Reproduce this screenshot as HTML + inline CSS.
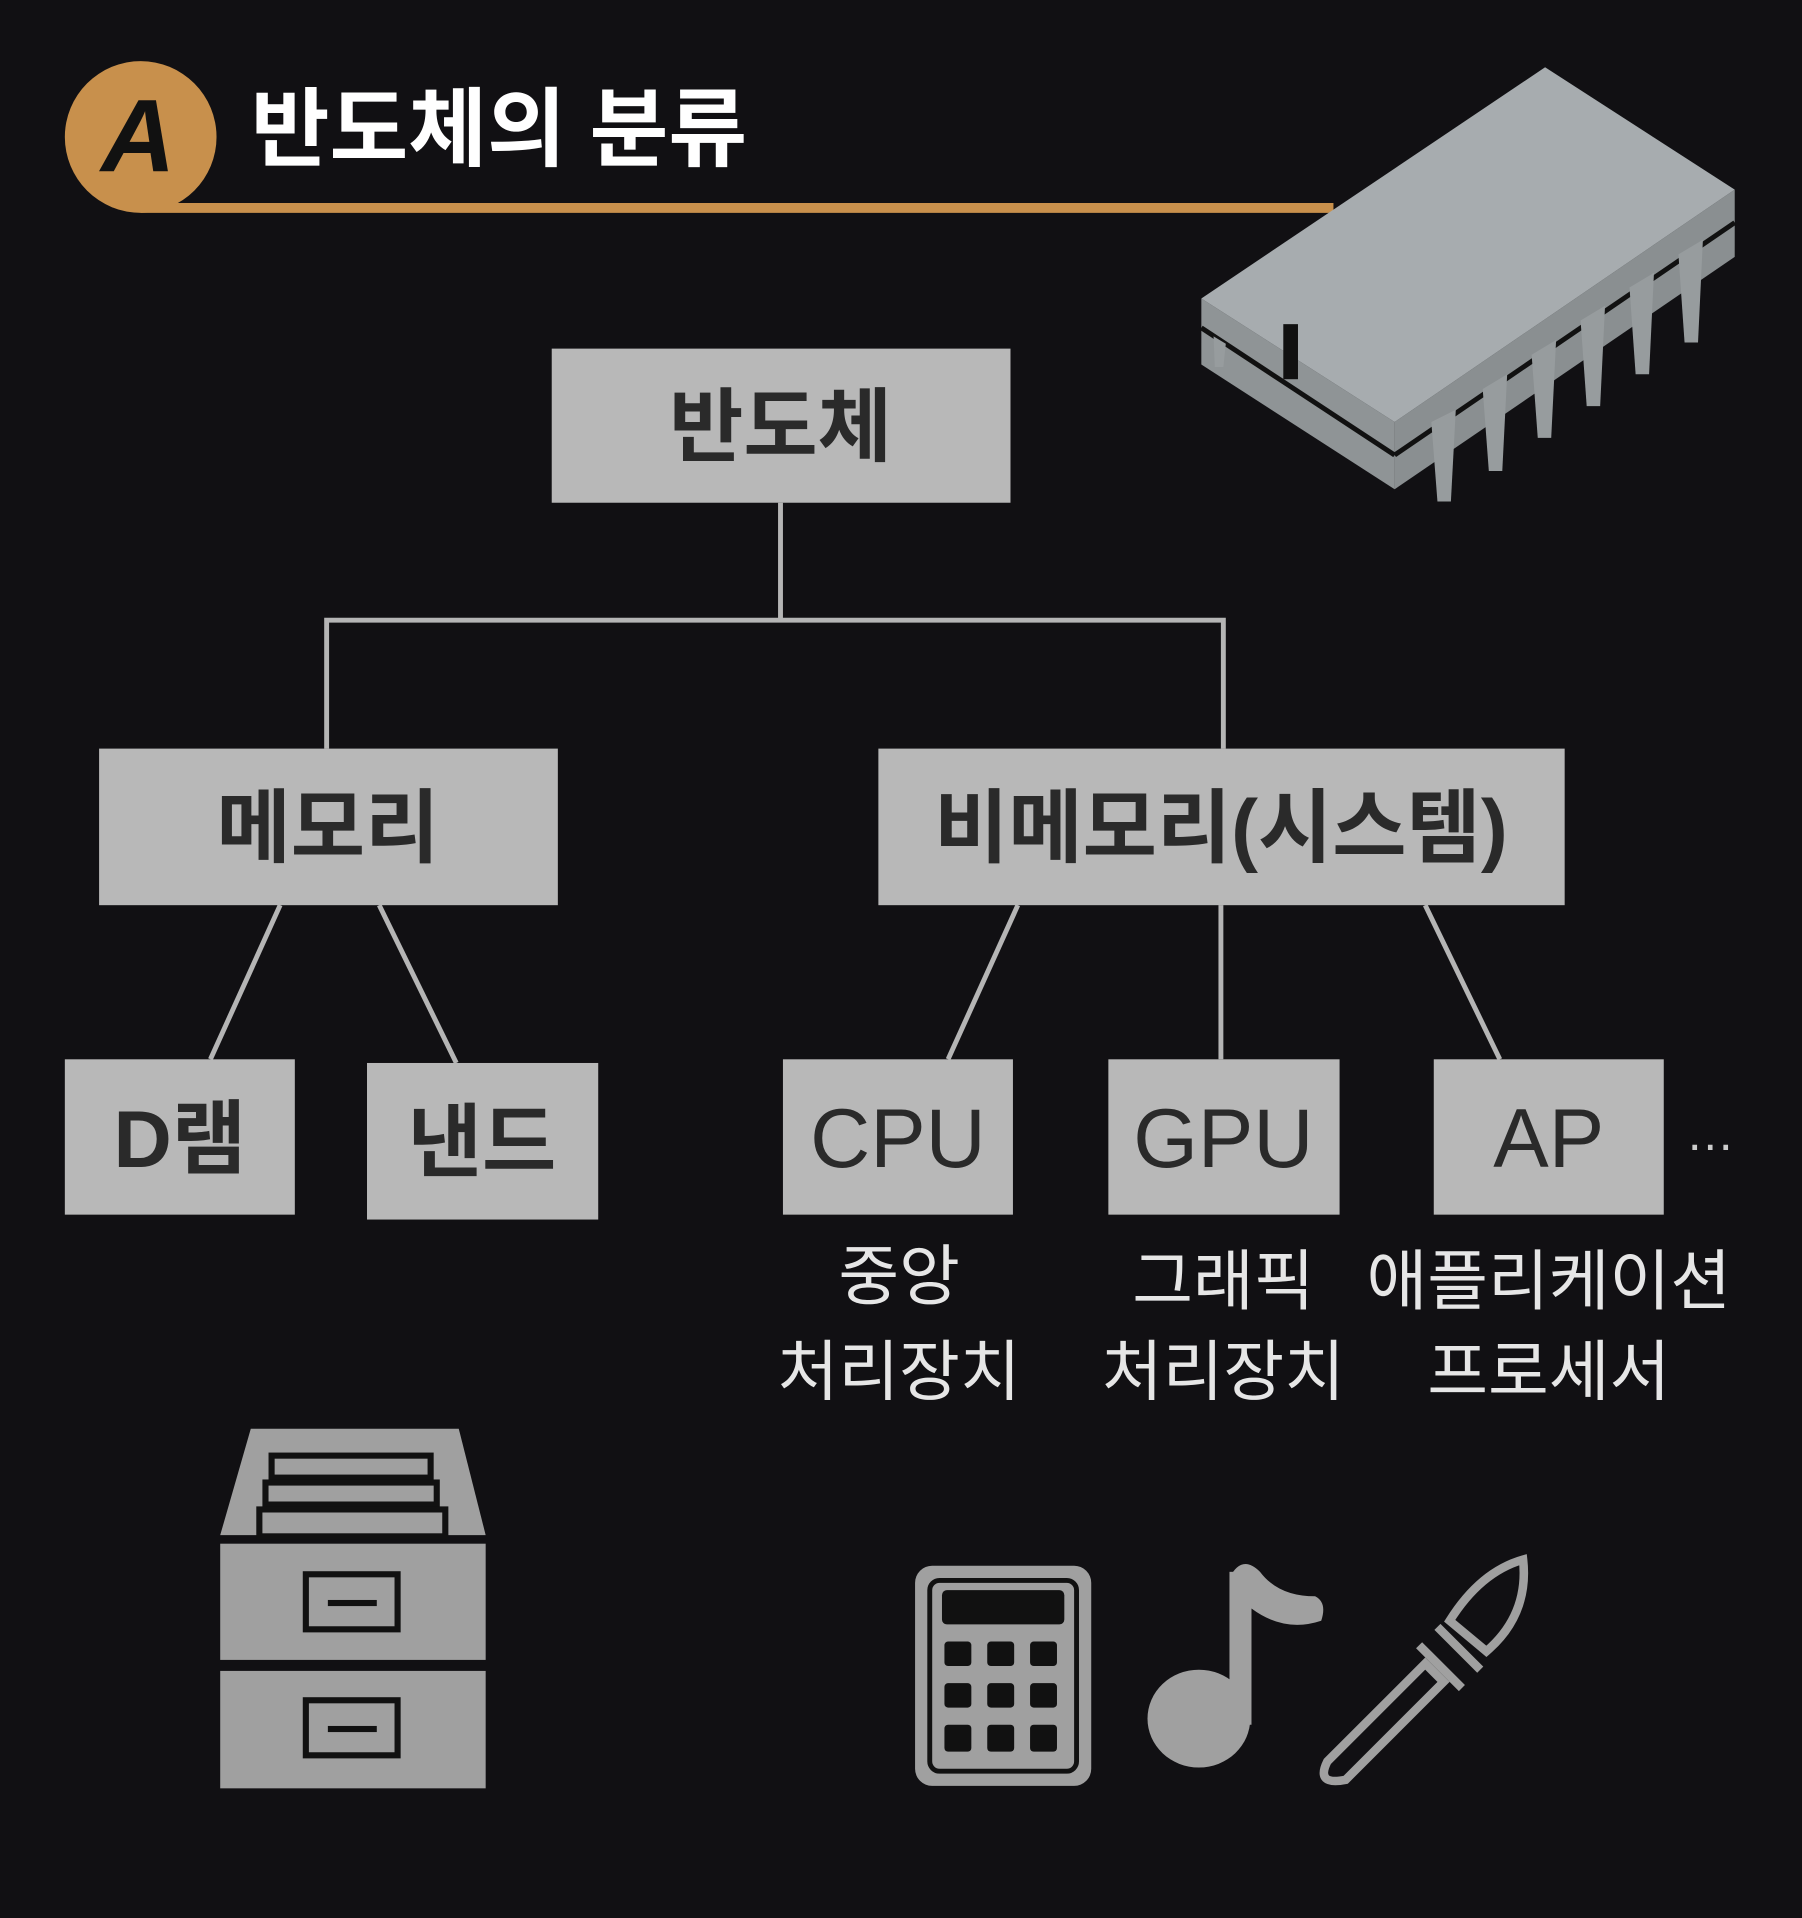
<!DOCTYPE html>
<html><head><meta charset="utf-8">
<style>
html,body{margin:0;padding:0;background:#111013;}
svg{display:block;}
text{font-family:"Liberation Sans","Noto Sans CJK KR",sans-serif;}
</style></head>
<body>
<svg width="1802" height="1918" viewBox="0 0 1473 1568" preserveAspectRatio="none" xmlns="http://www.w3.org/2000/svg">
<rect width="1473" height="1568" fill="#111013"/>
<!-- header -->
<line x1="115" y1="170" x2="1090" y2="170" stroke="#c8904c" stroke-width="8"/>
<circle cx="115" cy="112" r="62" fill="#c8904c"/>
<text x="113" y="140" text-anchor="middle" font-size="84" font-weight="bold" font-style="italic" fill="#111">A</text>
<text x="205" y="130" font-size="70" font-weight="bold" fill="#fff">반도체의 분류</text>
<!-- chip -->
<g>
<polygon points="982,244 1140,345 1140,400 982,298" fill="#8f9496"/>
<polygon points="1140,345 1418,155 1418,210 1140,400" fill="#8a8f91"/>
<line x1="982" y1="268" x2="1140" y2="372" stroke="#111" stroke-width="4"/>
<line x1="1140" y1="372" x2="1418" y2="182" stroke="#111" stroke-width="4"/>
<polygon points="982,244 1263,55 1418,155 1140,345" fill="#a7acaf"/>
<rect x="1049" y="265" width="12" height="45" fill="#111"/>
<g fill="#979c9e">
<polygon points="1170,345 1190,335 1186,410 1175,410"/>
<polygon points="1212,318 1232,306 1228,385 1217,385"/>
<polygon points="1252,290 1272,278 1268,358 1257,358"/>
<polygon points="1292,262 1312,250 1308,332 1297,332"/>
<polygon points="1332,235 1352,223 1348,306 1337,306"/>
<polygon points="1372,208 1392,196 1388,280 1377,280"/>
<polygon points="992,275 1002,281 1000,300 993,300"/>
</g>
</g>
<!-- connectors -->
<g stroke="#b5b5b5" stroke-width="4" fill="none">
<line x1="638" y1="411" x2="638" y2="507"/>
<polyline points="267,612 267,507 1000,507 1000,612"/>
<line x1="229" y1="740" x2="172" y2="866"/>
<line x1="310" y1="740" x2="373" y2="869"/>
<line x1="832" y1="740" x2="775" y2="866"/>
<line x1="998" y1="740" x2="998" y2="866"/>
<line x1="1165" y1="740" x2="1226" y2="866"/>
</g>
<!-- boxes -->
<g fill="#b8b8b8">
<rect x="451" y="285" width="375" height="126"/>
<rect x="81" y="612" width="375" height="128"/>
<rect x="718" y="612" width="561" height="128"/>
<rect x="53" y="866" width="188" height="127"/>
<rect x="300" y="869" width="189" height="128"/>
<rect x="640" y="866" width="188" height="127"/>
<rect x="906" y="866" width="189" height="127"/>
<rect x="1172" y="866" width="188" height="127"/>
</g>
<g fill="#2a2a2a" font-size="66" text-anchor="middle" font-weight="bold">
<text x="638" y="372">반도체</text>
<text x="268" y="700">메모리</text>
<text x="998" y="700">비메모리(시스템)</text>
<text x="147" y="954">D램</text>
<text x="394" y="957">낸드</text>
<text x="734" y="954" font-weight="normal" font-size="68">CPU</text>
<text x="1000" y="954" font-weight="normal" font-size="68">GPU</text>
<text x="1266" y="954" font-weight="normal" font-size="68">AP</text>
</g>
<text x="1398" y="940" text-anchor="middle" font-size="40" fill="#ccc">…</text>
<g fill="#e6e6e6" font-size="54" text-anchor="middle">
<text x="735" y="1062">중앙</text>
<text x="735" y="1140">처리장치</text>
<text x="1000" y="1066">그래픽</text>
<text x="1000" y="1140">처리장치</text>
<text x="1266" y="1066">애플리케이션</text>
<text x="1266" y="1140">프로세서</text>
</g>
<!-- file cabinet -->
<g fill="#a0a0a0">
<polygon points="205,1168 375,1168 397,1255 180,1255"/>
<rect x="180" y="1262" width="217" height="95"/>
<rect x="180" y="1366" width="217" height="96"/>
</g>
<g fill="none" stroke="#111" stroke-width="5">
<rect x="222" y="1190" width="130" height="18"/>
<rect x="217" y="1212" width="140" height="18"/>
<rect x="212" y="1234" width="152" height="22"/>
<rect x="250" y="1287" width="75" height="45"/>
<rect x="250" y="1390" width="75" height="45"/>
</g>
<rect x="268" y="1308" width="40" height="5" fill="#111"/>
<rect x="268" y="1411" width="40" height="5" fill="#111"/>
<!-- calculator -->
<rect x="748" y="1280" width="144" height="180" rx="14" fill="#a0a0a0"/>
<rect x="760" y="1292" width="120" height="156" rx="8" fill="none" stroke="#111" stroke-width="4"/>
<rect x="770" y="1300" width="100" height="28" rx="4" fill="#111"/>
<g fill="#111">
<rect x="772" y="1342" width="22" height="20" rx="3"/><rect x="807" y="1342" width="22" height="20" rx="3"/><rect x="842" y="1342" width="22" height="20" rx="3"/>
<rect x="772" y="1376" width="22" height="20" rx="3"/><rect x="807" y="1376" width="22" height="20" rx="3"/><rect x="842" y="1376" width="22" height="20" rx="3"/>
<rect x="772" y="1410" width="22" height="22" rx="3"/><rect x="807" y="1410" width="22" height="22" rx="3"/><rect x="842" y="1410" width="22" height="22" rx="3"/>
</g>
<!-- note -->
<g fill="#a0a0a0">
<ellipse cx="980" cy="1405" rx="42" ry="40"/>
<rect x="1005" y="1285" width="18" height="125"/>
<path d="M1005 1290 Q1015 1270 1030 1285 Q1045 1305 1075 1305 Q1085 1310 1080 1325 Q1050 1335 1023 1315 Z"/>
</g>
<!-- brush -->
<g fill="none" stroke="#a0a0a0" stroke-width="7">
<path d="M1085 1440 L1165 1360 L1180 1375 L1100 1455 Q1075 1460 1085 1440 Z"/>
<path d="M1160 1345 L1195 1380"/>
<path d="M1175 1330 L1210 1365"/>
<path d="M1185 1325 Q1210 1285 1245 1275 Q1250 1320 1215 1350 Z"/>
</g>
</svg>
</body></html>
